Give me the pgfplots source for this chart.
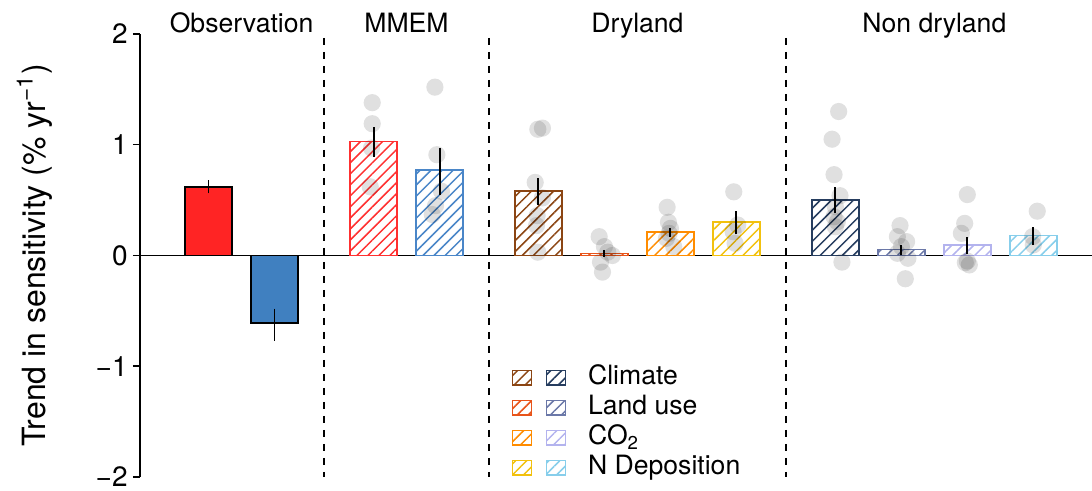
\documentclass[border=0pt]{standalone}
\usepackage{fontspec}
\setmainfont{TeX Gyre Heros}
\usepackage{pgfplots}
\pgfplotsset{compat=1.18}
\usetikzlibrary{patterns.meta}
\definecolor{obsred}{HTML}{FF2424}
\definecolor{obsblue}{HTML}{4080C0}
\definecolor{mmred}{HTML}{FF3030}
\definecolor{mmblue}{HTML}{4A86C8}
\definecolor{dclim}{HTML}{8B4513}
\definecolor{dland}{HTML}{E8541A}
\definecolor{dco}{HTML}{FF8C00}
\definecolor{dndep}{HTML}{F2C10E}
\definecolor{nclim}{HTML}{263D5F}
\definecolor{nland}{HTML}{6B78A8}
\definecolor{nco}{HTML}{B3B3EE}
\definecolor{nndep}{HTML}{87CEEB}
\tikzset{hatch/.style={pattern={Lines[angle=45,distance=3.9pt,line width=0.75pt]}, pattern color=#1, draw=#1, line width=0.8pt}}
\pgfplotsset{
  hbar/.style={ybar, bar width=0.71, bar shift=0pt, hatch=#1, forget plot},
  pts/.style={only marks, mark=*, mark size=4.3pt, mark options={solid, draw=black, fill=black, fill opacity=0.12, draw opacity=0}, forget plot},
  eb/.style={black, line width=1pt, forget plot},
}
\begin{document}
\begin{tikzpicture}
\begin{axis}[
  scale only axis, width=476pt, height=221.5pt,
  xmin=-1.04, xmax=13.39, ymin=-2, ymax=2,
  axis y line*=left, hide x axis,
  clip=false,
  ytick={-2,-1,0,1,2}, yticklabels={−2,−1,0,1,2},
  tick align=outside, major tick length=3.5pt,
  every tick/.style={black, line width=0.75pt},
  axis line style={black, line width=0.75pt},
  yticklabel style={font=\fontsize{14}{16}\selectfont, inner sep=0pt, xshift=-2.5pt},
  every axis y label/.style={at={(axis description cs:-0.111,0.5)}, rotate=90, anchor=center},
  ylabel={\fontsize{16}{18}\selectfont Trend in sensitivity (\% yr\textsuperscript{−1})},
  legend columns=2,
  legend cell align=left,
  legend style={draw=none, fill=none, at={(axis description cs:0.39,0.254)}, anchor=north west,
    inner sep=0pt, row sep=2pt,
    nodes={inner sep=0pt, text height=10pt, text depth=3pt, font=\fontsize{13.3}{16}\selectfont},
    /tikz/column 1/.style={column sep=6pt},
    /tikz/column 2/.style={column sep=0pt},
    /tikz/column 3/.style={column sep=11pt}},
  legend image code/.code={\draw[#1] (0pt,-3.6pt) rectangle (9.5pt,3.6pt);},
]
% zero line
\addplot[black, line width=0.8pt, forget plot] coordinates {(-1.04,0) (13.39,0)};
% separators
\addplot[black, line width=0.8pt, dash pattern=on 3.5pt off 3.5pt, forget plot] coordinates {(1.75,1.964) (1.75,-2.0)};
\addplot[black, line width=0.8pt, dash pattern=on 3.5pt off 3.5pt, forget plot] coordinates {(4.25,1.964) (4.25,-2.0)};
\addplot[black, line width=0.8pt, dash pattern=on 3.5pt off 3.5pt, forget plot] coordinates {(8.75,1.964) (8.75,-2.0)};
% observation bars
\addplot[ybar, bar width=0.71, bar shift=0pt, fill=obsred, draw=black, line width=0.8pt, forget plot] coordinates {(0,0.62)};
\addplot[ybar, bar width=0.71, bar shift=0pt, fill=obsblue, draw=black, line width=0.8pt, forget plot] coordinates {(1,-0.61)};
% MMEM
\addplot[hbar=mmred] coordinates {(2.5,1.03)};
\addplot[hbar=mmblue] coordinates {(3.5,0.77)};
% dryland
\addplot[hbar=dclim] coordinates {(5,0.585)};
\addplot[hbar=dland] coordinates {(6,0.018)};
\addplot[hbar=dco] coordinates {(7,0.21)};
\addplot[hbar=dndep] coordinates {(8,0.30)};
% non dryland
\addplot[hbar=nclim] coordinates {(9.5,0.50)};
\addplot[hbar=nland] coordinates {(10.5,0.055)};
\addplot[hbar=nco] coordinates {(11.5,0.095)};
\addplot[hbar=nndep] coordinates {(12.5,0.18)};
% model points
\addplot[pts] coordinates {(2.48,1.38) (2.48,1.19) (2.47,0.97) (2.45,0.62)};
\addplot[pts] coordinates {(3.43,1.52) (3.46,0.91) (3.53,0.58) (3.44,0.45) (3.39,0.37)};
\addplot[pts] coordinates {(4.99,1.14) (5.06,1.15) (4.95,0.66) (5.06,0.52) (4.98,0.36) (4.97,0.27) (4.99,0.03)};
\addplot[pts] coordinates {(5.92,0.17) (6.0,0.08) (6.05,0.03) (6.12,0.0) (5.94,-0.06) (5.97,-0.15)};
\addplot[pts] coordinates {(6.95,0.435) (6.97,0.30) (7.0,0.245) (6.98,0.20) (6.94,0.155) (7.05,0.08)};
\addplot[pts] coordinates {(7.96,0.575) (8.02,0.275) (7.95,0.215) (7.98,0.11)};
\addplot[pts] coordinates {(9.55,1.30) (9.45,1.05) (9.48,0.73) (9.57,0.54) (9.5,0.44) (9.48,0.35) (9.53,0.305) (9.5,0.26) (9.6,-0.06)};
\addplot[pts] coordinates {(10.48,0.27) (10.44,0.17) (10.58,0.125) (10.5,0.08) (10.44,0.02) (10.6,-0.025) (10.56,-0.21)};
\addplot[pts] coordinates {(11.5,0.55) (11.46,0.29) (11.41,0.20) (11.47,-0.065) (11.53,-0.085) (11.5,-0.05)};
\addplot[pts] coordinates {(12.56,0.40) (12.49,0.17) (12.5,0.095)};
% error bars
\addplot[eb, line width=0.8pt] coordinates {(0,0.56) (0,0.68)};
\addplot[eb, line width=0.8pt] coordinates {(1,-0.48) (1,-0.77)};
\addplot[eb] coordinates {(2.5,0.89) (2.5,1.16)};
\addplot[eb] coordinates {(3.5,0.55) (3.5,0.97)};
\addplot[eb] coordinates {(5,0.46) (5,0.70)};
\addplot[eb] coordinates {(6,-0.01) (6,0.05)};
\addplot[eb] coordinates {(7,0.17) (7,0.25)};
\addplot[eb] coordinates {(8,0.19) (8,0.40)};
\addplot[eb] coordinates {(9.5,0.38) (9.5,0.62)};
\addplot[eb] coordinates {(10.5,0.005) (10.5,0.095)};
\addplot[eb] coordinates {(11.5,0.01) (11.5,0.17)};
\addplot[eb] coordinates {(12.5,0.095) (12.5,0.26)};
% group titles
\node[anchor=base, font=\fontsize{13.3}{16}\selectfont] at (axis cs:0.5,2.01) {Observation};
\node[anchor=base, font=\fontsize{13.3}{16}\selectfont] at (axis cs:3.0,2.01) {MMEM};
\node[anchor=base, font=\fontsize{13.3}{16}\selectfont] at (axis cs:6.5,2.01) {Dryland};
\node[anchor=base, font=\fontsize{13.3}{16}\selectfont] at (axis cs:11.0,2.01) {Non dryland};
% legend
\addlegendimage{hatch=dclim, line width=0.6pt}\addlegendentry{}
\addlegendimage{hatch=nclim, line width=0.6pt}\addlegendentry{Climate}
\addlegendimage{hatch=dland, line width=0.6pt}\addlegendentry{}
\addlegendimage{hatch=nland, line width=0.6pt}\addlegendentry{Land use}
\addlegendimage{hatch=dco, line width=0.6pt}\addlegendentry{}
\addlegendimage{hatch=nco, line width=0.6pt}\addlegendentry{CO\textsubscript{2}}
\addlegendimage{hatch=dndep, line width=0.6pt}\addlegendentry{}
\addlegendimage{hatch=nndep, line width=0.6pt}\addlegendentry{N Deposition}
\end{axis}
\pgfresetboundingbox
\path (-70pt,-7pt) rectangle (476pt,238.5pt);
\end{tikzpicture}
\end{document}
